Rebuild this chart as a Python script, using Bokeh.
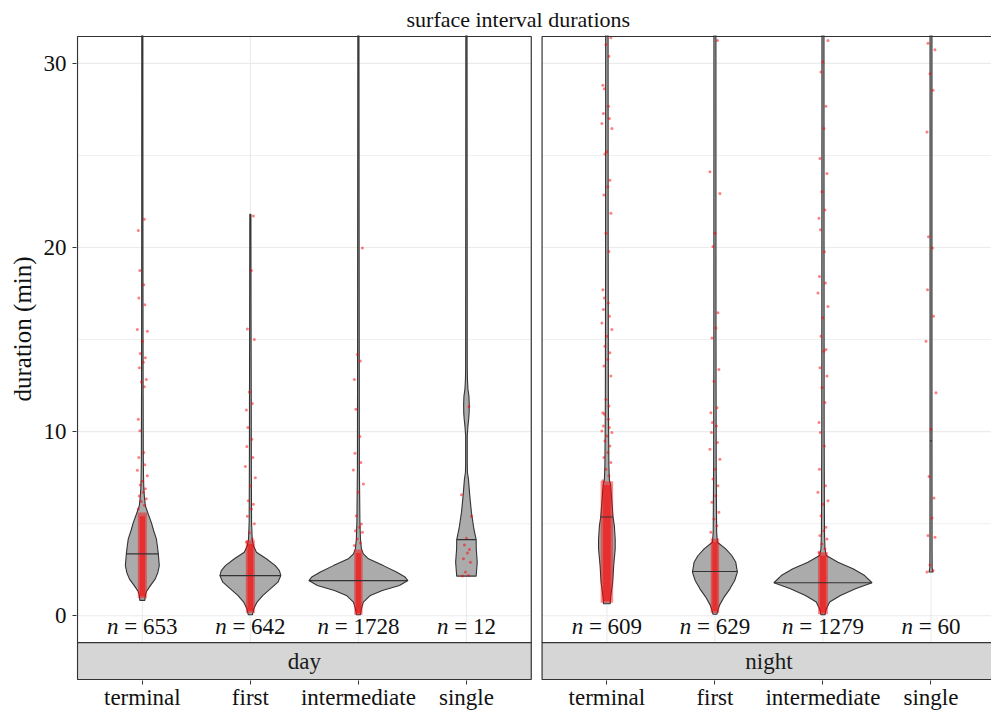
import numpy as np
from bokeh.plotting import figure
from bokeh.models import Range1d, FixedTicker, Title, ColumnDataSource
from bokeh.embed import file_html
from bokeh.resources import INLINE
from bokeh.core.properties import value

# ---------------- data ----------------
panels = ["day", "night"]
categories = ["terminal", "first", "intermediate", "single"]
n_day = [653, 642, 1728, 12]
n_night = [609, 629, 1279, 60]

# violin outlines: duration levels (min) and half-widths (x units)
day_terminal_y = [0.83, 1.1, 1.3, 1.55, 2.0, 2.35, 2.72, 3.36, 3.8, 4.17, 4.6, 5.07, 5.5, 5.97, 6.4, 6.88, 7.6, 8.5, 12, 16, 22, 33]
day_terminal_w = [0.023, 0.028, 0.037, 0.065, 0.12, 0.144, 0.157, 0.148, 0.139, 0.13, 0.106, 0.083, 0.056, 0.028, 0.02, 0.014, 0.011, 0.009, 0.0075, 0.0065, 0.0055, 0.005]
day_first_y = [0.05, 0.38, 0.74, 1.1, 1.46, 1.82, 2.18, 2.45, 2.72, 3.09, 3.45, 3.81, 4.17, 5.1, 8, 12, 16, 21.8]
day_first_w = [0.019, 0.032, 0.062, 0.116, 0.185, 0.255, 0.282, 0.269, 0.231, 0.148, 0.056, 0.028, 0.017, 0.011, 0.009, 0.008, 0.0065, 0.005]
day_intermediate_y = [0.05, 0.38, 0.74, 1.1, 1.37, 1.64, 1.91, 2.1, 2.37, 2.72, 3.09, 3.36, 3.63, 4.17, 5.1, 8, 15, 33]
day_intermediate_w = [0.019, 0.028, 0.046, 0.111, 0.222, 0.38, 0.458, 0.432, 0.352, 0.231, 0.093, 0.046, 0.028, 0.019, 0.014, 0.009, 0.0075, 0.005]
day_single_y = [2.15, 2.9, 3.63, 4.13, 4.71, 5.61, 6.51, 7.42, 7.78, 8.32, 9.76, 10.3, 10.7, 11.03, 11.5, 11.93, 12.3, 12.83, 13.5, 33]
day_single_w = [0.09, 0.1, 0.091, 0.09, 0.069, 0.046, 0.031, 0.0185, 0.0093, 0.0074, 0.0074, 0.014, 0.021, 0.025, 0.026, 0.023, 0.014, 0.0093, 0.0074, 0.0055]
night_terminal_y = [0.65, 1.1, 1.82, 2.72, 3.63, 4.17, 4.89, 5.36, 5.97, 6.51, 7.15, 7.3, 7.42, 8.14, 9.94, 11.75, 20, 33]
night_terminal_w = [0.031, 0.037, 0.054, 0.063, 0.077, 0.077, 0.069, 0.057, 0.049, 0.042, 0.034, 0.026, 0.023, 0.0185, 0.016, 0.014, 0.012, 0.011]
night_first_y = [0.08, 0.2, 0.56, 1.01, 1.46, 1.91, 2.37, 2.9, 3.27, 3.63, 3.99, 4.54, 8, 15, 33]
night_first_w = [0.0185, 0.023, 0.042, 0.085, 0.139, 0.183, 0.208, 0.193, 0.156, 0.1, 0.023, 0.016, 0.012, 0.01, 0.0093]
night_intermediate_y = [0.05, 0.38, 0.74, 1.1, 1.46, 1.79, 2.18, 2.55, 2.9, 3.27, 3.63, 4.5, 10, 33]
night_intermediate_w = [0.0185, 0.032, 0.062, 0.162, 0.301, 0.454, 0.386, 0.278, 0.139, 0.031, 0.0185, 0.014, 0.011, 0.0093]
night_single_y = [2.37, 2.6, 3.5, 10, 33]
night_single_w = [0.0185, 0.011, 0.01, 0.009, 0.009]

median_day = [3.36, 2.18, 1.91, 4.13]
median_night = [5.36, 2.40, 1.79, 9.5]

# dense cores of the jittered observations (from, to, half-width)
dense_day_lo = [0.95, 0.15, 0.05, None]
dense_day_hi = [5.6, 4.1, 3.6, None]
dense_day_hw = [0.042, 0.042, 0.039, None]
dense_night_lo = [0.7, 0.15, 0.08, None]
dense_night_hi = [7.3, 4.2, 3.45, None]
dense_night_hw = [0.058, 0.039, 0.046, None]

# individually visible observations (min)
day_terminal_pts = [5.8, 6.0, 6.2, 6.35, 6.5, 6.7, 6.9, 7.1, 7.3, 7.6, 7.9, 8.2, 8.60, 8.86, 10.04, 10.67, 12.44, 12.69, 12.83, 13.47, 13.77, 14.01, 14.24, 14.91, 15.45, 15.54, 16.89, 17.26, 17.98, 18.75, 20.92, 21.54]
day_first_pts = [4.0, 4.17, 4.5, 5.0, 5.4, 5.79, 6.06, 6.24, 7.06, 7.5, 8.1, 8.6, 9.19, 9.58, 10.22, 11.17, 11.53, 12.15, 15.0, 15.58, 18.75, 21.71]
day_intermediate_pts = [3.81, 3.95, 4.17, 4.53, 4.62, 4.80, 4.98, 5.43, 6.70, 7.15, 7.92, 8.32, 8.83, 9.73, 11.21, 12.83, 13.83, 14.19, 19.97]
day_single_pts = [2.15, 2.18, 2.37, 2.91, 3.09, 3.41, 3.59, 3.84, 4.21, 5.40, 6.57, 11.36]
night_terminal_pts = [7.33, 7.6, 7.96, 8.32, 8.59, 8.86, 9.22, 9.49, 9.76, 9.95, 10.03, 10.22, 10.31, 10.67, 10.94, 11.03, 11.39, 11.75, 13.02, 13.56, 13.92, 14.28, 14.64, 15.18, 15.54, 15.90, 16.27, 16.63, 16.99, 17.26, 17.71, 19.78, 20.78, 21.86, 22.85, 23.30, 23.66, 25.08, 25.20, 26.46, 26.74, 27.01, 27.28, 27.67, 28.63, 28.81, 30.39, 31.03, 31.39]
night_first_pts = [4.53, 4.89, 5.25, 5.62, 6.16, 6.51, 7.06, 7.42, 7.96, 8.50, 9.04, 9.41, 9.95, 10.31, 10.49, 11.03, 11.30, 12.74, 13.38, 15.09, 15.63, 16.45, 20.05, 20.78, 22.94, 24.11, 31.24]
night_intermediate_pts = [3.45, 3.63, 3.90, 4.17, 4.35, 4.62, 4.80, 5.43, 6.06, 6.24, 6.70, 7.06, 7.96, 9.22, 9.95, 10.49, 11.58, 12.39, 13.02, 13.47, 14.37, 14.46, 15.18, 16.18, 16.80, 17.53, 18.07, 18.43, 19.77, 20.96, 21.59, 22.04, 23.03, 24.02, 24.84, 26.46, 27.67, 29.53, 30.07, 31.24]
night_single_pts = [2.37, 2.45, 2.76, 4.26, 4.35, 5.31, 6.39, 7.56, 10.13, 12.11, 14.91, 16.26, 17.71, 19.97, 20.59, 26.28, 28.54, 29.44, 30.74, 31.1]

y_ticks = [0, 10, 20, 30]
y_minor = [5, 15, 25]

# ---------------- layout constants ----------------
FONT = "Liberation Serif"
panel_offset = {"day": 0.0, "night": 4.3}
panel_bottom, panel_top = -1.462, 31.462
strip_bottom = -3.466
violins = {
    "day": [(day_terminal_y, day_terminal_w), (day_first_y, day_first_w),
            (day_intermediate_y, day_intermediate_w), (day_single_y, day_single_w)],
    "night": [(night_terminal_y, night_terminal_w), (night_first_y, night_first_w),
              (night_intermediate_y, night_intermediate_w), (night_single_y, night_single_w)],
}
points = {
    "day": [day_terminal_pts, day_first_pts, day_intermediate_pts, day_single_pts],
    "night": [night_terminal_pts, night_first_pts, night_intermediate_pts, night_single_pts],
}
medians = {"day": median_day, "night": median_night}
dense = {"day": (dense_day_lo, dense_day_hi, dense_day_hw),
         "night": (dense_night_lo, dense_night_hi, dense_night_hw)}
counts = {"day": n_day, "night": n_night}
jitter_px = [-4, 2, -1, 4, -3, 1, 3, -2, 0, 5, -5, 2.5, -3.5, 1.5, -2.5]
PX = 1 / 108.04

p = figure(width=991, height=712, x_range=Range1d(0.3907, 8.86), y_range=Range1d(-3.52, 31.516),
           output_backend="svg", toolbar_location=None,
           min_border_top=35, min_border_bottom=30, min_border_left=76, min_border_right=0,
           outline_line_color=None, background_fill_color="white", border_fill_color="white",
           title="surface interval durations")
p.grid.visible = False
p.title.text_font = FONT
p.title.text_font_size = "22px"
p.title.text_font_style = "normal"
p.title.text_color = "#111111"
p.title.align = "left"
p.title.offset = 330
p.title.standoff = 7

p.add_layout(Title(text="duration (min)", align="left", offset=279, text_font=FONT,
                   text_font_size="25px", text_font_style="normal", text_color="#111111",
                   standoff=10), "left")

# grid lines
for pan in panels:
    off = panel_offset[pan]
    left, right = off + 0.4, off + 4.6
    p.segment(x0=[left] * 3, x1=[right] * 3, y0=y_minor, y1=y_minor, line_color="#F0F0F0", line_width=1)
    p.segment(x0=[left] * 4, x1=[right] * 4, y0=y_ticks, y1=y_ticks, line_color="#EBEBEB", line_width=1.1)
    cx = [off + i + 1 for i in range(len(categories))]
    p.segment(x0=cx, x1=cx, y0=[panel_bottom] * 4, y1=[panel_top + 1] * 4, line_color="#EBEBEB", line_width=1.1)

# violins
for pan in panels:
    off = panel_offset[pan]
    xs_all, ys_all = [], []
    for i, (vy, vw) in enumerate(violins[pan]):
        c = off + i + 1
        vy = np.asarray(vy, float); vw = np.asarray(vw, float)
        xs_all.append(list(np.concatenate([c + vw, (c - vw)[::-1]])))
        ys_all.append(list(np.concatenate([vy, vy[::-1]])))
    p.patches(xs=xs_all, ys=ys_all, fill_color="#ABABAB", line_color="#333333", line_width=1.1)

# jittered observations
for pan in panels:
    off = panel_offset[pan]
    lo, hi, hw = dense[pan]
    for i in range(4):
        c = off + i + 1
        if lo[i] is not None:
            p.quad(left=[c - hw[i]], right=[c + hw[i]], bottom=[lo[i]], top=[hi[i]],
                   fill_color="red", fill_alpha=0.45, line_color=None)
            p.quad(left=[c - hw[i] * 0.6], right=[c + hw[i] * 0.6], bottom=[lo[i] + 0.1], top=[hi[i] - 0.2],
                   fill_color="red", fill_alpha=0.5, line_color=None)
        ys = points[pan][i]
        xs = [c + jitter_px[k % len(jitter_px)] * PX for k in range(len(ys))]
        p.scatter(x=xs, y=ys, size=3, marker="circle", fill_color="red", fill_alpha=0.5, line_color=None)

# medians
for pan in panels:
    off = panel_offset[pan]
    x0, x1, yy = [], [], []
    for i, (vy, vw) in enumerate(violins[pan]):
        c = off + i + 1
        m = medians[pan][i]
        w = float(np.interp(m, vy, vw))
        x0.append(c - w); x1.append(c + w); yy.append(m)
    p.segment(x0=x0, x1=x1, y0=yy, y1=yy, line_color="#333333", line_width=1.2)

# panel borders and strips
for pan in panels:
    off = panel_offset[pan]
    p.quad(left=[off + 0.4], right=[off + 4.6], bottom=[panel_bottom], top=[panel_top],
           fill_color=None, line_color="#333333", line_width=1.2)
    p.quad(left=[off + 0.4], right=[off + 4.6], bottom=[strip_bottom], top=[panel_bottom],
           fill_color="#D6D6D6", line_color="#333333", line_width=1.2)
p.text(x=[panel_offset[pan] + 2.5 for pan in panels], y=[(strip_bottom + panel_bottom) / 2] * 2,
       text=panels, text_font=value(FONT), text_font_size="23px", text_align="center",
       text_baseline="middle", text_color="#1a1a1a")

# n labels (italic n)
EM = 23
lab_x, lab_rest, off_n, off_rest = [], [], [], []
for pan in panels:
    for i, n in enumerate(counts[pan]):
        rest = "= %d" % n
        total = 0.5 + 1.064 + 0.5 * len(str(n))
        lab_x.append(panel_offset[pan] + i + 1)
        lab_rest.append(rest)
        off_n.append(-total / 2 * EM)
        off_rest.append((-total / 2 + 0.75) * EM)
src = ColumnDataSource(dict(x=lab_x, y=[-0.57] * len(lab_x), n=["n"] * len(lab_x), rest=lab_rest,
                            on=off_n, orr=off_rest))
p.text(x="x", y="y", text="n", x_offset="on", source=src, text_font=value(FONT), text_font_size="23px",
       text_font_style="italic", text_align="left", text_baseline="middle", text_color="#111111")
p.text(x="x", y="y", text="rest", x_offset="orr", source=src, text_font=value(FONT), text_font_size="23px",
       text_align="left", text_baseline="middle", text_color="#111111")

# axes
tick_pos = [panel_offset[pan] + i + 1 for pan in panels for i in range(4)]
p.xaxis.ticker = FixedTicker(ticks=tick_pos)
p.xaxis.major_label_overrides = {t: categories[k % 4] for k, t in enumerate(tick_pos)}
p.yaxis.ticker = FixedTicker(ticks=y_ticks)
for ax in (p.xaxis, p.yaxis):
    ax.axis_line_color = None
    ax.major_tick_line_color = "#333333"
    ax.major_tick_out = 4
    ax.major_tick_in = 0
    ax.minor_tick_line_color = None
    ax.major_label_text_font = FONT
    ax.major_label_text_font_size = "23px"
    ax.major_label_text_color = "#111111"
p.xaxis.major_label_standoff = 0
p.yaxis.major_label_standoff = 6

open("out.html", "w").write(file_html(p, INLINE))
